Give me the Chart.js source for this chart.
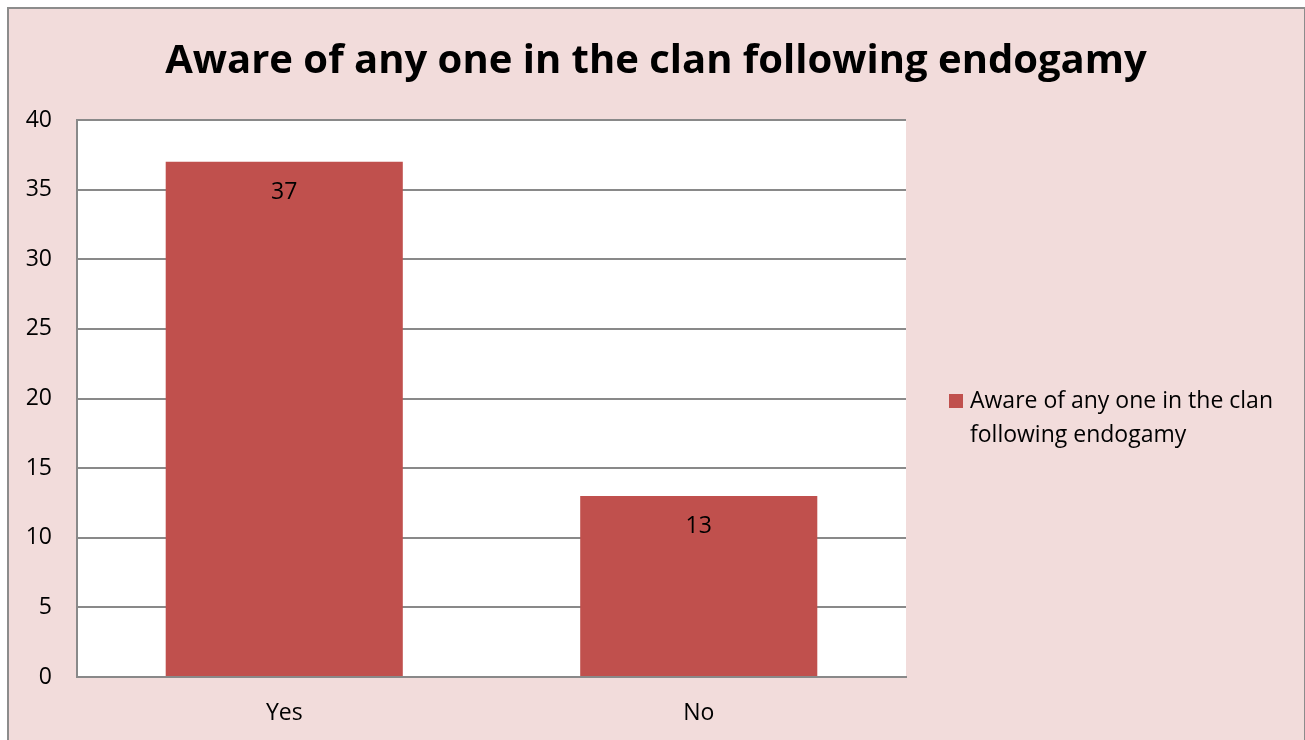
<!DOCTYPE html>
<html>
<head>
<meta charset="utf-8">
<script src="https://cdn.jsdelivr.net/npm/chart.js@4"></script>
<style>
  html, body { margin: 0; padding: 0; background: #ffffff; overflow: hidden; }
  #frame {
    position: absolute; left: 7px; top: 7px; width: 1295px; height: 760px;
    background: #F2DCDB;
    border-top: 2px solid #8c8c8c; border-left: 2px solid #8c8c8c; border-right: 2px solid #8c8c8c;
  }
  #wrap { position: absolute; left: 0; top: 0; width: 1305px; height: 740px; }
</style>
</head>
<body>
<div id="frame"></div>
<div id="wrap"><canvas id="chart" width="1305" height="740"></canvas></div>
<script>
const chartTitle = 'Aware of any one in the clan following endogamy';
const categories = ['Yes', 'No'];
const seriesName = 'Aware of any one in the clan following endogamy';
const seriesValues = [37, 13];
const legendLines = ['Aware of any one in the clan', 'following endogamy'];
const yTicks = [0, 5, 10, 15, 20, 25, 30, 35, 40];

const BAR_COLOR = '#C0504D';
const GRID_COLOR = '#898989';
const FONT = '"Open Sans", Lato, sans-serif';

// White plot background behind the grid
const plotBackground = {
  id: 'plotBackground',
  beforeDraw(chart) {
    const { ctx, chartArea: a } = chart;
    ctx.save();
    ctx.fillStyle = '#ffffff';
    ctx.fillRect(a.left, a.top, a.right - a.left, a.bottom - a.top);
    ctx.restore();
  }
};

// Value labels just inside the top of each bar
const barValues = {
  id: 'barValues',
  afterDatasetsDraw(chart) {
    const { ctx } = chart;
    const meta = chart.getDatasetMeta(0);
    ctx.save();
    ctx.font = '23px ' + FONT;
    ctx.fillStyle = '#000000';
    ctx.textAlign = 'center';
    ctx.textBaseline = 'alphabetic';
    meta.data.forEach((bar, i) => {
      ctx.fillText(String(chart.data.datasets[0].data[i]), bar.x, bar.y + 37);
    });
    ctx.restore();
  }
};

// Heading centred over the whole frame, legend on the right with wrapped text
const headingAndKey = {
  id: 'headingAndKey',
  afterDraw(chart) {
    const { ctx } = chart;
    ctx.save();
    ctx.fillStyle = '#000000';
    ctx.font = 'bold 40px ' + FONT;
    ctx.textAlign = 'center';
    ctx.textBaseline = 'alphabetic';
    ctx.fillText(chartTitle, 656, 73);

    ctx.fillStyle = chart.data.datasets[0].backgroundColor;
    ctx.fillRect(949, 394, 14, 14);
    ctx.fillStyle = '#000000';
    ctx.font = '23px ' + FONT;
    ctx.textAlign = 'left';
    legendLines.forEach((line, i) => {
      ctx.fillText(line, 970, 408 + i * 34);
    });
    ctx.restore();
  }
};

new Chart(document.getElementById('chart'), {
  type: 'bar',
  data: {
    labels: categories,
    datasets: [{
      label: seriesName,
      data: seriesValues,
      backgroundColor: BAR_COLOR,
      borderWidth: 0,
      barPercentage: 0.572,
      categoryPercentage: 1.0
    }]
  },
  options: {
    responsive: false,
    animation: false,
    layout: { padding: { top: 120, right: 399, bottom: 0, left: 0 } },
    plugins: {
      legend: { display: false },
      title: { display: false },
      tooltip: { enabled: false }
    },
    scales: {
      x: {
        afterFit(scale) { scale.height = 63; },
        grid: { display: false, drawTicks: false },
        border: { display: true, color: GRID_COLOR, width: 2 },
        ticks: { color: '#000000', font: { family: FONT, size: 23 }, padding: 23 }
      },
      y: {
        min: 0,
        max: 40,
        afterFit(scale) { scale.width = 77; },
        afterBuildTicks(scale) { scale.ticks = yTicks.map(v => ({ value: v })); },
        grid: { color: GRID_COLOR, lineWidth: 2, drawTicks: false },
        border: { display: true, color: GRID_COLOR, width: 2 },
        ticks: { color: '#000000', font: { family: FONT, size: 23 }, padding: 25 }
      }
    }
  },
  plugins: [plotBackground, barValues, headingAndKey]
});
</script>
</body>
</html>
